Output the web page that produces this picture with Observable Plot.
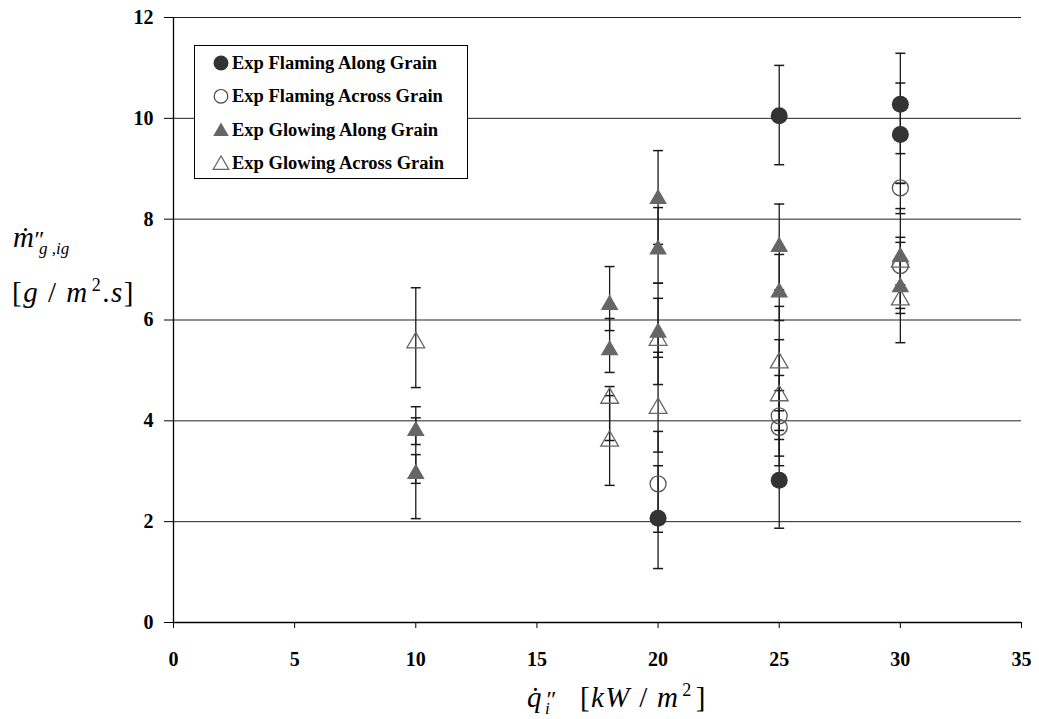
<!DOCTYPE html>
<html><head><meta charset="utf-8">
<script src="https://cdn.jsdelivr.net/npm/d3@7"></script>
<script src="https://cdn.jsdelivr.net/npm/@observablehq/plot@0.6"></script>
<style>body{margin:0;background:#fff;} svg{display:block;}</style>
</head><body><div id="chart"></div>
<script>
// ---- data ----
const seriesNames = ["Exp Flaming Along Grain", "Exp Flaming Across Grain", "Exp Glowing Along Grain", "Exp Glowing Across Grain"];
const xTicks = [0, 5, 10, 15, 20, 25, 30, 35];
const yTicks = [0, 2, 4, 6, 8, 10, 12];

const flamingAlongX = [20, 25, 25, 30, 30];
const flamingAlongY = [2.07, 10.05, 2.82, 10.28, 9.68];
const flamingAcrossX = [20, 25, 25, 30, 30];
const flamingAcrossY = [2.75, 4.10, 3.87, 8.62, 7.08];
const glowingAlongX = [10, 10, 18, 18, 20, 20, 20, 25, 25, 30, 30];
const glowingAlongY = [3.85, 3.00, 6.35, 5.45, 8.45, 7.45, 5.80, 7.50, 6.60, 7.30, 6.70];
const glowingAcrossX = [10, 18, 18, 20, 20, 25, 25, 30, 30];
const glowingAcrossY = [5.60, 4.50, 3.65, 5.65, 4.30, 5.20, 4.55, 7.20, 6.45];

const errX    = [10, 10, 10, 10, 18, 18, 18, 18, 20, 20, 20, 20, 20, 20, 20, 25, 25, 25, 25, 25, 25, 25, 25, 30, 30, 30, 30, 30, 30, 30];
const errLow  = [4.66, 3.53, 2.76, 2.06, 5.79, 4.96, 3.61, 2.72, 7.50, 6.73, 5.26, 4.72, 3.38, 1.79, 1.07, 9.08, 6.60, 5.99, 4.20, 3.63, 3.30, 3.11, 1.87, 9.30, 8.71, 8.11, 6.13, 6.23, 5.55, 6.70];
const errHigh = [6.64, 4.28, 3.33, 4.06, 7.06, 6.03, 4.68, 4.50, 9.36, 8.23, 6.43, 6.73, 5.36, 3.79, 3.11, 11.05, 8.30, 7.30, 6.27, 5.61, 4.90, 4.60, 3.81, 11.29, 10.70, 8.71, 8.21, 7.64, 7.54, 7.20];

// ---- tables ----
const mk = (xs, ys) => xs.map((x, i) => ({x, y: ys[i]}));
const flAlong = mk(flamingAlongX, flamingAlongY);
const flAcross = mk(flamingAcrossX, flamingAcrossY);
const glAlong = mk(glowingAlongX, glowingAlongY);
const glAcross = mk(glowingAcrossX, glowingAcrossY);
const errs = errX.map((x, i) => ({x, lo: errLow[i], hi: errHigh[i]}));
const capPts = errs.flatMap(d => [{x: d.x, y: d.lo}, {x: d.x, y: d.hi}]);

const capSymbol = {draw(ctx, size) { const w = Math.sqrt(size / Math.PI); ctx.moveTo(-w, 0); ctx.lineTo(w, 0); }};

const plot = Plot.plot({
  width: 1039, height: 719,
  marginLeft: 173, marginRight: 18, marginTop: 17, marginBottom: 97,
  x: {domain: [0, 35]},
  y: {domain: [0, 12]},
  style: {fontFamily: "'Liberation Serif', 'Times New Roman', serif", fontSize: "20px", fontWeight: "bold", background: "#fff", color: "#000"},
  marks: [
    Plot.gridY(yTicks.filter(d => d > 0), {stroke: "#222", strokeOpacity: 1, strokeWidth: 1}),
    Plot.axisY(yTicks, {tickSize: 9, tickPadding: 11, label: null, stroke: "#000", tickFormat: d => String(d), fontSize: 20, fontWeight: "bold"}),
    Plot.axisX(xTicks, {tickSize: 6, tickPadding: 23, label: null, stroke: "#000", tickFormat: d => String(d), fontSize: 20, fontWeight: "bold"}),
    Plot.ruleX([0], {stroke: "#000", strokeWidth: 1.3}),
    Plot.ruleY([0], {stroke: "#000", strokeWidth: 1.3}),
    Plot.ruleX(errs, {x: "x", y1: "lo", y2: "hi", stroke: "#1a1a1a", strokeWidth: 1.3}),
    Plot.dot(capPts, {x: "x", y: "y", symbol: capSymbol, r: 5, stroke: "#1a1a1a", strokeWidth: 1.5, fill: "none"}),
    Plot.dot(flAlong, {x: "x", y: "y", symbol: "circle", r: 8.5, fill: "#333", stroke: "none"}),
    Plot.dot(flAcross, {x: "x", y: "y", symbol: "circle", r: 8, fill: "none", stroke: "#555", strokeWidth: 1.3}),
    Plot.dot(glAlong, {x: "x", y: "y", symbol: "triangle", r: 6.6, dy: 2.5, fill: "#666", stroke: "none"}),
    Plot.dot(glAcross, {x: "x", y: "y", symbol: "triangle", r: 6.6, dy: 2.5, fill: "none", stroke: "#666", strokeWidth: 1.3})
  ]
});
document.getElementById("chart").appendChild(plot);

// ---- legend and axis titles ----
const svg = d3.select(plot);
const serif = "'Liberation Serif', 'Times New Roman', serif";
const lg = svg.append("g").attr("text-anchor", "start");
lg.append("rect").attr("x", 194.5).attr("y", 45.5).attr("width", 273).attr("height", 133)
  .attr("fill", "#fff").attr("stroke", "#000").attr("stroke-width", 1);
const legendStyles = [
  {sym: d3.symbolCircle, size: Math.PI * 7.5 * 7.5, fill: "#333", stroke: "none", dy: 0},
  {sym: d3.symbolCircle, size: Math.PI * 6.8 * 6.8, fill: "none", stroke: "#444", dy: 0},
  {sym: d3.symbolTriangle, size: Math.PI * 5.8 * 5.8, fill: "#666", stroke: "none", dy: 2},
  {sym: d3.symbolTriangle, size: Math.PI * 5.8 * 5.8, fill: "none", stroke: "#666", dy: 2}
];
seriesNames.forEach((name, i) => {
  const cy = 63 + i * 33.3;
  const s = legendStyles[i];
  lg.append("path").attr("d", d3.symbol(s.sym, s.size)())
    .attr("transform", `translate(221,${cy + s.dy})`)
    .attr("fill", s.fill).attr("stroke", s.stroke).attr("stroke-width", 1.2);
  lg.append("text").attr("x", 232).attr("y", cy + 6).text(name)
    .attr("font-family", serif).attr("font-size", 18.5).attr("font-weight", "bold").attr("fill", "#000");
});

// y title
const yt = svg.append("g").attr("font-family", serif).attr("fill", "#000").attr("font-weight", "normal").attr("text-anchor", "start");
yt.append("text").attr("x", 13).attr("y", 247).attr("font-size", 29).attr("font-style", "italic").text("m\u0307");
yt.append("text").attr("x", 33).attr("y", 247).attr("font-size", 24).attr("font-style", "italic").text("\u2033");
yt.append("text").attr("x", 39).attr("y", 254).attr("font-size", 17).attr("font-style", "italic").text("g ,ig");
const y2 = yt.append("text").attr("x", 12).attr("y", 302).attr("font-size", 29).attr("letter-spacing", 1.5);
y2.append("tspan").text("[");
y2.append("tspan").attr("font-style", "italic").text("g");
y2.append("tspan").text(" / ");
y2.append("tspan").attr("font-style", "italic").text("m");
y2.append("tspan").attr("font-size", 18).attr("dy", -11).attr("dx", 3).text("2");
y2.append("tspan").attr("dy", 11).text(".");
y2.append("tspan").attr("font-style", "italic").text("s");
y2.append("tspan").text("]");

// x title
const xt = svg.append("g").attr("font-family", serif).attr("fill", "#000").attr("font-weight", "normal").attr("text-anchor", "start");
xt.append("text").attr("x", 527).attr("y", 707).attr("font-size", 29).attr("font-style", "italic").text("q\u0307");
xt.append("text").attr("x", 545).attr("y", 707).attr("font-size", 24).attr("font-style", "italic").text("\u2033");
xt.append("text").attr("x", 545).attr("y", 714).attr("font-size", 17).attr("font-style", "italic").text("i");
const x2 = xt.append("text").attr("x", 580).attr("y", 707).attr("font-size", 29).attr("letter-spacing", 1.3);
x2.append("tspan").text("[");
x2.append("tspan").attr("font-style", "italic").text("kW");
x2.append("tspan").text(" / ");
x2.append("tspan").attr("font-style", "italic").text("m");
x2.append("tspan").attr("font-size", 18).attr("dy", -11).attr("dx", 3).text("2");
x2.append("tspan").attr("dy", 11).attr("dx", 3).text("]");
</script></body></html>
